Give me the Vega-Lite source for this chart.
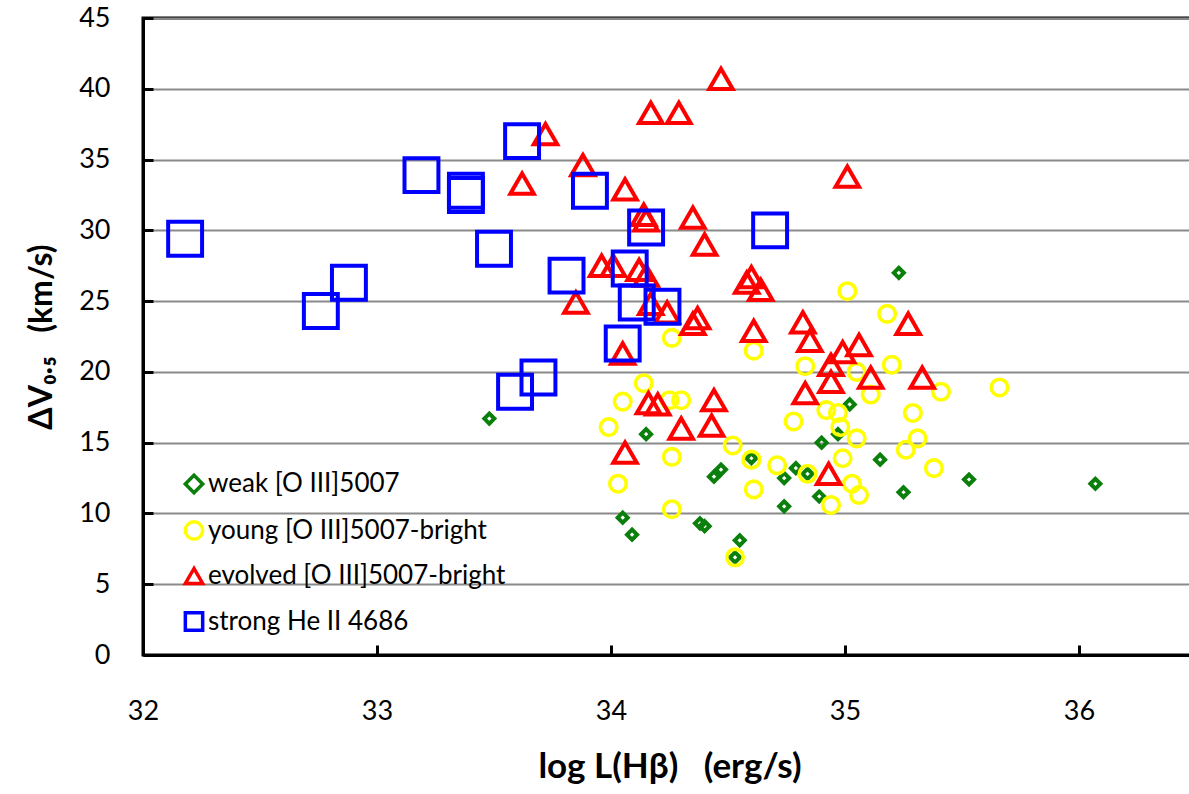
{
 "$schema": "https://vega.github.io/schema/vega-lite/v6.json",
 "width": 1053, "height": 637,
 "autosize": {"type": "none"},
 "padding": {"left": 143, "top": 18, "right": 0, "bottom": 139},
 "background": "white",
 "config": {"view": {"stroke": "black", "strokeWidth": 3}, "font": "Lato",
  "legend": {"orient": "none", "legendX": 38, "legendY": 453, "title": null, "labelFontSize": 26, "labelColor": "black", "labelLimit": 0,
    "symbolSize": 300, "symbolStrokeWidth": 3.5, "rowPadding": 14.5, "labelOffset": 1, "padding": 0}},
 "data": {"values": [
  {"g":"weak [O III]5007","logL":33.48,"dv":16.7},
  {"g":"weak [O III]5007","logL":34.15,"dv":15.6},
  {"g":"weak [O III]5007","logL":34.05,"dv":9.7},
  {"g":"weak [O III]5007","logL":34.09,"dv":8.5},
  {"g":"weak [O III]5007","logL":34.38,"dv":9.3},
  {"g":"weak [O III]5007","logL":34.40,"dv":9.1},
  {"g":"weak [O III]5007","logL":34.44,"dv":12.6},
  {"g":"weak [O III]5007","logL":34.47,"dv":13.1},
  {"g":"weak [O III]5007","logL":34.55,"dv":8.1},
  {"g":"weak [O III]5007","logL":34.53,"dv":6.9},
  {"g":"weak [O III]5007","logL":34.60,"dv":13.9},
  {"g":"weak [O III]5007","logL":34.74,"dv":10.5},
  {"g":"weak [O III]5007","logL":34.74,"dv":12.5},
  {"g":"weak [O III]5007","logL":34.79,"dv":13.2},
  {"g":"weak [O III]5007","logL":34.84,"dv":12.8},
  {"g":"weak [O III]5007","logL":34.89,"dv":11.2},
  {"g":"weak [O III]5007","logL":34.90,"dv":15.0},
  {"g":"weak [O III]5007","logL":34.97,"dv":15.6},
  {"g":"weak [O III]5007","logL":35.15,"dv":13.8},
  {"g":"weak [O III]5007","logL":35.25,"dv":11.5},
  {"g":"weak [O III]5007","logL":35.23,"dv":27.0},
  {"g":"weak [O III]5007","logL":35.02,"dv":17.7},
  {"g":"weak [O III]5007","logL":35.53,"dv":12.4},
  {"g":"weak [O III]5007","logL":36.07,"dv":12.1},
  {"g":"young [O III]5007-bright","logL":34.05,"dv":17.9},
  {"g":"young [O III]5007-bright","logL":33.99,"dv":16.1},
  {"g":"young [O III]5007-bright","logL":34.14,"dv":19.2},
  {"g":"young [O III]5007-bright","logL":34.25,"dv":18.0},
  {"g":"young [O III]5007-bright","logL":34.30,"dv":18.0},
  {"g":"young [O III]5007-bright","logL":34.26,"dv":14.0},
  {"g":"young [O III]5007-bright","logL":34.03,"dv":12.1},
  {"g":"young [O III]5007-bright","logL":34.26,"dv":10.3},
  {"g":"young [O III]5007-bright","logL":34.52,"dv":14.8},
  {"g":"young [O III]5007-bright","logL":34.60,"dv":13.8},
  {"g":"young [O III]5007-bright","logL":34.61,"dv":11.7},
  {"g":"young [O III]5007-bright","logL":34.71,"dv":13.4},
  {"g":"young [O III]5007-bright","logL":34.53,"dv":6.9},
  {"g":"young [O III]5007-bright","logL":34.26,"dv":22.4},
  {"g":"young [O III]5007-bright","logL":34.61,"dv":21.5},
  {"g":"young [O III]5007-bright","logL":34.78,"dv":16.5},
  {"g":"young [O III]5007-bright","logL":34.83,"dv":20.4},
  {"g":"young [O III]5007-bright","logL":34.84,"dv":12.8},
  {"g":"young [O III]5007-bright","logL":34.94,"dv":10.6},
  {"g":"young [O III]5007-bright","logL":34.92,"dv":17.3},
  {"g":"young [O III]5007-bright","logL":34.99,"dv":13.9},
  {"g":"young [O III]5007-bright","logL":35.01,"dv":25.7},
  {"g":"young [O III]5007-bright","logL":35.18,"dv":24.1},
  {"g":"young [O III]5007-bright","logL":35.20,"dv":20.5},
  {"g":"young [O III]5007-bright","logL":35.05,"dv":20.0},
  {"g":"young [O III]5007-bright","logL":35.11,"dv":18.4},
  {"g":"young [O III]5007-bright","logL":35.41,"dv":18.6},
  {"g":"young [O III]5007-bright","logL":34.97,"dv":17.1},
  {"g":"young [O III]5007-bright","logL":34.98,"dv":16.1},
  {"g":"young [O III]5007-bright","logL":35.29,"dv":17.1},
  {"g":"young [O III]5007-bright","logL":35.05,"dv":15.3},
  {"g":"young [O III]5007-bright","logL":35.31,"dv":15.3},
  {"g":"young [O III]5007-bright","logL":35.66,"dv":18.9},
  {"g":"young [O III]5007-bright","logL":35.26,"dv":14.5},
  {"g":"young [O III]5007-bright","logL":35.38,"dv":13.2},
  {"g":"young [O III]5007-bright","logL":35.03,"dv":12.1},
  {"g":"young [O III]5007-bright","logL":35.06,"dv":11.3},
  {"g":"evolved [O III]5007-bright","logL":34.47,"dv":40.7},
  {"g":"evolved [O III]5007-bright","logL":34.17,"dv":38.3},
  {"g":"evolved [O III]5007-bright","logL":34.29,"dv":38.3},
  {"g":"evolved [O III]5007-bright","logL":33.72,"dv":36.8},
  {"g":"evolved [O III]5007-bright","logL":33.62,"dv":33.3},
  {"g":"evolved [O III]5007-bright","logL":33.88,"dv":34.6},
  {"g":"evolved [O III]5007-bright","logL":34.06,"dv":32.9},
  {"g":"evolved [O III]5007-bright","logL":34.14,"dv":31.1},
  {"g":"evolved [O III]5007-bright","logL":34.15,"dv":30.7},
  {"g":"evolved [O III]5007-bright","logL":34.35,"dv":30.9},
  {"g":"evolved [O III]5007-bright","logL":34.40,"dv":29.0},
  {"g":"evolved [O III]5007-bright","logL":35.01,"dv":33.8},
  {"g":"evolved [O III]5007-bright","logL":33.96,"dv":27.5},
  {"g":"evolved [O III]5007-bright","logL":34.01,"dv":27.5},
  {"g":"evolved [O III]5007-bright","logL":34.12,"dv":27.2},
  {"g":"evolved [O III]5007-bright","logL":34.15,"dv":26.8},
  {"g":"evolved [O III]5007-bright","logL":33.85,"dv":24.9},
  {"g":"evolved [O III]5007-bright","logL":34.17,"dv":24.8},
  {"g":"evolved [O III]5007-bright","logL":34.24,"dv":24.2},
  {"g":"evolved [O III]5007-bright","logL":34.35,"dv":23.4},
  {"g":"evolved [O III]5007-bright","logL":34.37,"dv":23.8},
  {"g":"evolved [O III]5007-bright","logL":34.05,"dv":21.3},
  {"g":"evolved [O III]5007-bright","logL":34.58,"dv":26.3},
  {"g":"evolved [O III]5007-bright","logL":34.60,"dv":26.7},
  {"g":"evolved [O III]5007-bright","logL":34.64,"dv":25.8},
  {"g":"evolved [O III]5007-bright","logL":34.61,"dv":22.9},
  {"g":"evolved [O III]5007-bright","logL":34.82,"dv":23.5},
  {"g":"evolved [O III]5007-bright","logL":34.85,"dv":22.2},
  {"g":"evolved [O III]5007-bright","logL":35.06,"dv":21.9},
  {"g":"evolved [O III]5007-bright","logL":34.99,"dv":21.4},
  {"g":"evolved [O III]5007-bright","logL":35.27,"dv":23.4},
  {"g":"evolved [O III]5007-bright","logL":34.94,"dv":20.5},
  {"g":"evolved [O III]5007-bright","logL":34.94,"dv":19.3},
  {"g":"evolved [O III]5007-bright","logL":35.11,"dv":19.6},
  {"g":"evolved [O III]5007-bright","logL":35.33,"dv":19.6},
  {"g":"evolved [O III]5007-bright","logL":34.83,"dv":18.5},
  {"g":"evolved [O III]5007-bright","logL":34.16,"dv":17.8},
  {"g":"evolved [O III]5007-bright","logL":34.20,"dv":17.7},
  {"g":"evolved [O III]5007-bright","logL":34.44,"dv":18.0},
  {"g":"evolved [O III]5007-bright","logL":34.30,"dv":16.0},
  {"g":"evolved [O III]5007-bright","logL":34.43,"dv":16.2},
  {"g":"evolved [O III]5007-bright","logL":34.06,"dv":14.3},
  {"g":"evolved [O III]5007-bright","logL":34.93,"dv":12.8},
  {"g":"strong He II 4686","logL":32.18,"dv":29.4},
  {"g":"strong He II 4686","logL":32.88,"dv":26.3},
  {"g":"strong He II 4686","logL":32.76,"dv":24.3},
  {"g":"strong He II 4686","logL":33.19,"dv":33.9},
  {"g":"strong He II 4686","logL":33.38,"dv":32.8},
  {"g":"strong He II 4686","logL":33.38,"dv":32.5},
  {"g":"strong He II 4686","logL":33.62,"dv":36.3},
  {"g":"strong He II 4686","logL":33.50,"dv":28.7},
  {"g":"strong He II 4686","logL":33.59,"dv":18.6},
  {"g":"strong He II 4686","logL":33.69,"dv":19.6},
  {"g":"strong He II 4686","logL":33.91,"dv":32.8},
  {"g":"strong He II 4686","logL":34.15,"dv":30.2},
  {"g":"strong He II 4686","logL":34.68,"dv":30.0},
  {"g":"strong He II 4686","logL":33.81,"dv":26.8},
  {"g":"strong He II 4686","logL":34.08,"dv":27.3},
  {"g":"strong He II 4686","logL":34.11,"dv":24.9},
  {"g":"strong He II 4686","logL":34.22,"dv":24.6},
  {"g":"strong He II 4686","logL":34.05,"dv":22.0}
 ]},
 "encoding": {
  "x": {"field": "logL", "type": "quantitative",
   "scale": {"domain": [32, 36.5], "nice": false, "zero": false},
   "axis": {"values": [32, 33, 34, 35, 36], "grid": false, "domainColor": "black", "domainWidth": 3,
    "tickColor": "black", "tickWidth": 3, "tickSize": -10, "labelFontSize": 27, "labelColor": "black",
    "labelPadding": 53, "labelFlush": false, "title": "log L(Hβ)\u00a0\u00a0\u00a0(erg/s)", "titleFontSize": 35,
    "titleFontWeight": "bold", "titleColor": "black", "titlePadding": 25}},
  "y": {"field": "dv", "type": "quantitative",
   "scale": {"domain": [0, 45], "nice": false, "zero": true},
   "axis": {"values": [0, 5, 10, 15, 20, 25, 30, 35, 40, 45], "grid": true, "gridColor": "#8a8a8a", "gridWidth": 2,
    "domainColor": "black", "domainWidth": 3, "tickColor": "black", "tickWidth": 3, "tickSize": -10,
    "labelFontSize": 27, "labelColor": "black", "labelPadding": 43, "title": "ΔV₀.₅\u00a0\u00a0\u00a0(km/s)",
    "titleFontSize": 32, "titleFontWeight": "bold", "titleColor": "black", "titlePadding": 20}},
  "color": {"field": "g", "type": "nominal",
   "scale": {"domain": ["weak [O III]5007", "young [O III]5007-bright", "evolved [O III]5007-bright", "strong He II 4686"],
    "range": ["#0b7f0b", "#ffff00", "#ff0000", "#0000ff"]}},
  "shape": {"field": "g", "type": "nominal",
   "scale": {"domain": ["weak [O III]5007", "young [O III]5007-bright", "evolved [O III]5007-bright", "strong He II 4686"],
    "range": ["diamond", "circle", "triangle-up", "square"]}}
 },
 "layer": [
  {"transform": [{"filter": {"field": "g", "equal": "weak [O III]5007"}}],
   "mark": {"type": "point", "filled": false, "strokeWidth": 4, "opacity": 1, "size": 100, "clip": true}},
  {"transform": [{"filter": {"field": "g", "equal": "young [O III]5007-bright"}}],
   "mark": {"type": "point", "filled": false, "strokeWidth": 3.6, "opacity": 1, "size": 272, "clip": true}},
  {"transform": [{"filter": {"field": "g", "equal": "evolved [O III]5007-bright"}}],
   "mark": {"type": "point", "filled": false, "strokeWidth": 4, "opacity": 1, "size": 550, "clip": true}},
  {"transform": [{"filter": {"field": "g", "equal": "strong He II 4686"}}],
   "mark": {"type": "point", "filled": false, "strokeWidth": 4, "opacity": 1, "size": 1150, "clip": true}}
 ]
}
